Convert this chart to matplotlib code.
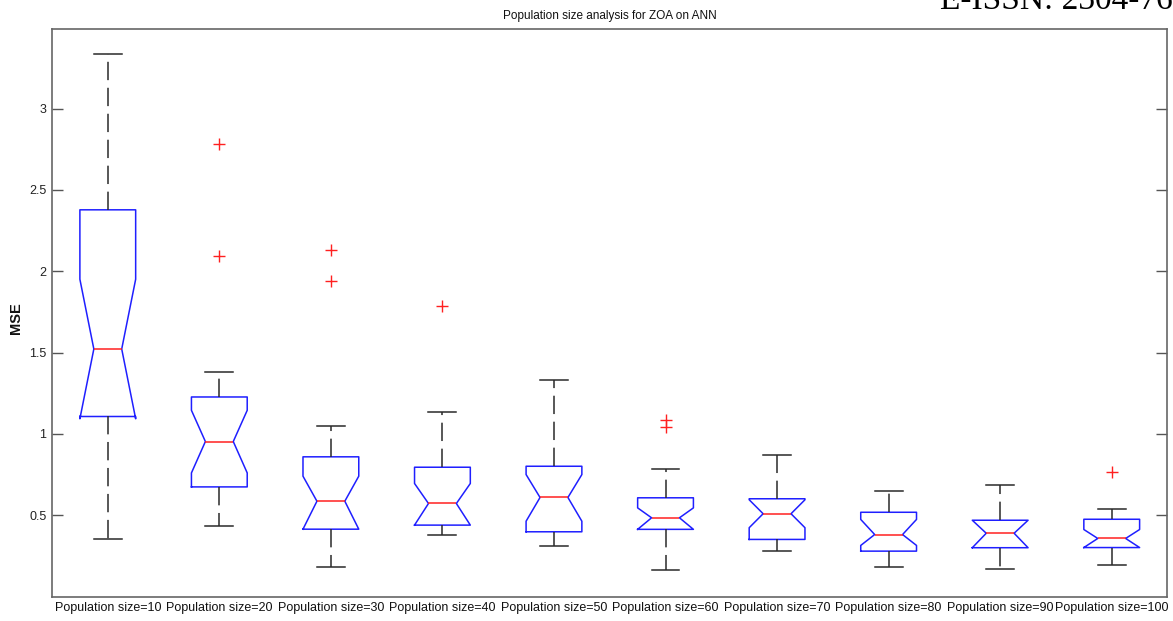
import matplotlib
matplotlib.use("Agg")
import matplotlib.pyplot as plt

categories = ["Population size=10", "Population size=20", "Population size=30",
              "Population size=40", "Population size=50", "Population size=60",
              "Population size=70", "Population size=80", "Population size=90",
              "Population size=100"]
whislo = [0.355, 0.431, 0.181, 0.380, 0.308, 0.166, 0.279, 0.183, 0.168, 0.193]
q1     = [1.107, 0.674, 0.414, 0.439, 0.398, 0.413, 0.351, 0.279, 0.300, 0.301]
cilo   = [1.093, 0.760, 0.414, 0.439, 0.463, 0.413, 0.423, 0.314, 0.300, 0.301]
med    = [1.522, 0.953, 0.586, 0.572, 0.609, 0.484, 0.509, 0.381, 0.389, 0.357]
cihi   = [1.951, 1.145, 0.740, 0.695, 0.750, 0.545, 0.595, 0.474, 0.469, 0.412]
q3     = [2.378, 1.227, 0.859, 0.795, 0.801, 0.607, 0.601, 0.518, 0.469, 0.475]
whishi = [3.334, 1.381, 1.049, 1.133, 1.329, 0.787, 0.871, 0.650, 0.684, 0.539]
fliers = [[], [2.783, 2.097], [2.132, 1.942], [1.784], [], [1.088, 1.043],
          [], [], [], [0.767]]
yticks = [0.5, 1, 1.5, 2, 2.5, 3]
ytick_labels = ["0.5", "1", "1.5", "2", "2.5", "3"]

W, H = 1173, 621
fig = plt.figure(figsize=(W / 100, H / 100), dpi=100)
ax = fig.add_axes([52 / W, 1 - 596.5 / H, (1167.5 - 52) / W, (596.5 - 29) / H])

stats = []
for i, lab in enumerate(categories):
    stats.append(dict(label=lab, whislo=whislo[i], q1=q1[i], cilo=cilo[i],
                      med=med[i], cihi=cihi[i], q3=q3[i], whishi=whishi[i],
                      fliers=fliers[i]))

ax.bxp(stats, positions=range(1, len(categories) + 1), widths=0.5,
       shownotches=True, showfliers=True, capwidths=0.25,
       boxprops=dict(color="#1f1fff", linewidth=1.1),
       medianprops=dict(color="#ff2020", linewidth=1.1),
       whiskerprops=dict(color="#2a2a2a", linewidth=1.1, linestyle=(0, (12, 5))),
       capprops=dict(color="#2a2a2a", linewidth=1.1),
       flierprops=dict(marker="+", markeredgecolor="#ff2020", markersize=8,
                       markeredgewidth=1.0, linestyle="none"))

ax.set_xlim(0.5, 10.5)
ax.set_ylim(0.0, 3.49)
ax.set_yticks(yticks)
ax.set_yticklabels(ytick_labels)
ax.tick_params(axis="y", direction="in", length=8, width=1, color="#555555",
               labelsize=9, labelcolor="#222222", right=True, pad=4)
ax.tick_params(axis="x", length=0, labelsize=9, labelcolor="#111111", pad=4)
for lab in ax.get_xticklabels() + ax.get_yticklabels():
    lab.set_fontfamily("Liberation Sans")
for sp in ax.spines.values():
    sp.set_color("#666666")
    sp.set_linewidth(1.2)

ax.set_ylabel("MSE", fontsize=10.5, fontweight="bold", family="Liberation Sans",
              color="#111111")
ax.yaxis.set_label_coords(-0.026, 0.49)
ax.set_title("Population size analysis for ZOA on ANN", fontsize=8.5,
             family="Liberation Sans", color="#111111", pad=7)

fig.text(940 / W, 1 - 9 / H, "E-ISSN: 2304-7658", family="Liberation Serif",
         fontsize=24, va="baseline", ha="left", color="#000000")

fig.savefig("out.png", dpi=100, facecolor="white")
